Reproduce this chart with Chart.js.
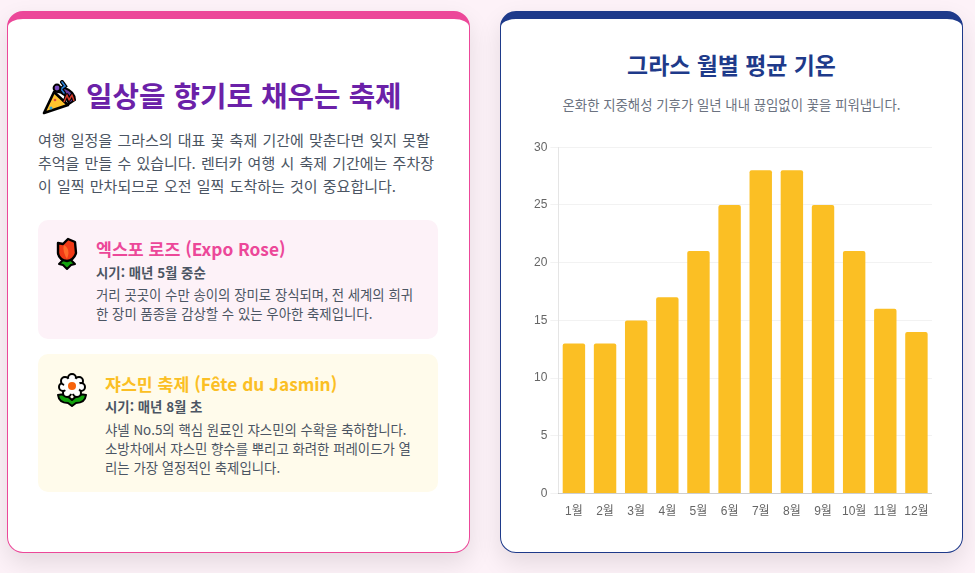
<!DOCTYPE html>
<html lang="ko">
<head>
<meta charset="utf-8">
<script src="https://cdn.jsdelivr.net/npm/chart.js@4"></script>
<style>
* { box-sizing: border-box; margin: 0; padding: 0; }
html, body { width: 975px; height: 573px; overflow: hidden; background: #fdf2f8; font-family: "Noto Sans CJK KR", "Noto Sans", sans-serif; }
.card { position: absolute; top: 11px; width: 463px; height: 542px; background: #fff; border-radius: 16px; border: 1px solid; border-top-width: 8px; box-shadow: 0 10px 25px rgba(0,0,0,.1); }
#left { left: 7px; border-color: #ec4899; }
#right { left: 500px; border-color: #1e3a8a; }
.abs { position: absolute; white-space: nowrap; }
h1 { font-size: 28.8px; line-height: 40px; font-weight: 700; color: #6b21a8; }
.lead { font-size: 15px; line-height: 23px; word-spacing: 1px; color: #4b5563; }
.box { position: absolute; left: 30px; width: 400px; border-radius: 10px; }
svg.icon { position: absolute; }
.name { font-size: 17.3px; line-height: 26px; font-weight: 700; }
.when { font-size: 13.4px; line-height: 20px; font-weight: 700; color: #4b5563; }
.desc { font-size: 13.4px; line-height: 19px; color: #4b5563; }
#chartTitle { left: 0; width: 461px; text-align: center; font-size: 22.9px; line-height: 32px; font-weight: 700; color: #1e3a8a; }
#chartSub { left: 0; width: 461px; text-align: center; font-size: 13.4px; line-height: 20px; color: #6b7280; }
#chartWrap { position: absolute; left: 30px; top: 118px; width: 401px; height: 385px; }
</style>
</head>
<body>
<div class="card" id="left">
  <svg class="icon" style="left:33px;top:61px" width="36" height="36" viewBox="0 0 36 36">
    <path d="M13 12 Q24 10 28 24 L34 20 Q34 12 24 8 Z" fill="#6b3fa0" stroke="#000" stroke-width="2" stroke-linejoin="round"/>
    <path d="M3 33 L13 12 L27 25 Z" fill="#fec32e" stroke="#000" stroke-width="2.6" stroke-linejoin="round"/>
    <path d="M21 2 L24 6 L20 9 L23 13" fill="none" stroke="#000" stroke-width="4" stroke-linecap="round"/>
    <path d="M21 2 L24 6 L20 9 L23 13" fill="none" stroke="#2a7fd5" stroke-width="1.6" stroke-linecap="round"/>
    <circle cx="16" cy="8" r="3.4" fill="#7a4cc0" stroke="#000" stroke-width="2"/>
    <path d="M23 22 L26 15 L28 20 L31 15 L33 21" fill="none" stroke="#000" stroke-width="3.6" stroke-linejoin="round"/>
    <path d="M23 22 L26 15 L28 20 L31 15 L33 21" fill="none" stroke="#d23a2a" stroke-width="1.5" stroke-linejoin="round"/>
    <circle cx="14" cy="20" r="1.3" fill="#e0483a"/><circle cx="10" cy="28" r="1.5" fill="#2a9fd5"/>
  </svg>
  <h1 class="abs" style="left:78px;top:56px">일상을 향기로 채우는 축제</h1>
  <p class="abs lead" style="left:30px;top:109px">여행 일정을 그라스의 대표 꽃 축제 기간에 맞춘다면 잊지 못할<br>추억을 만들 수 있습니다. 렌터카 여행 시 축제 기간에는 주차장<br>이 일찍 만차되므로 오전 일찍 도착하는 것이 중요합니다.</p>
  <div class="box" style="top:201px;height:119px;background:#fdf2f8">
    <svg class="icon" style="left:16px;top:17px" width="26" height="34" viewBox="0 0 26 34">
      <path d="M13 32 L9 28 L5 27 L9 23 L17 23 L21 27 L17 28 Z" fill="#13a10e" stroke="#000" stroke-width="2" stroke-linejoin="round"/>
      <path d="M4 6 L9 7 L14 2 L21 5 L22 16 Q20 23 13 24 Q5 23 4 16 Z" fill="#f03a17" stroke="#000" stroke-width="2.4" stroke-linejoin="round"/>
      <path d="M13 22 Q8 14 10 8 Q17 12 13 22 Z" fill="#ff6a2a"/>
    </svg>
    <div class="abs name" style="left:58px;top:16px;color:#ec4899">엑스포 로즈 (Expo Rose)</div>
    <div class="abs when" style="left:58px;top:42px">시기: 매년 5월 중순</div>
    <div class="abs desc" style="left:58px;top:65px">거리 곳곳이 수만 송이의 장미로 장식되며, 전 세계의 희귀<br>한 장미 품종을 감상할 수 있는 우아한 축제입니다.</div>
  </div>
  <div class="box" style="top:335px;height:138px;background:#fffbeb">
    <svg class="icon" style="left:19px;top:19px" width="30" height="34" viewBox="0 0 30 34">
      <path d="M1 22 Q8 20 15 27 Q22 20 29 22 Q28 30 19 30 L15 33 L11 30 Q2 30 1 22 Z" fill="#13a10e" stroke="#000" stroke-width="2" stroke-linejoin="round"/>
      <g fill="#fff" stroke="#000" stroke-width="2">
        <circle cx="15" cy="5" r="4"/><circle cx="22" cy="8" r="4"/><circle cx="24" cy="14" r="4"/><circle cx="20" cy="20" r="4"/>
        <circle cx="10" cy="20" r="4"/><circle cx="6" cy="14" r="4"/><circle cx="8" cy="8" r="4"/>
      </g>
      <circle cx="15" cy="13" r="8" fill="#fff"/>
      <circle cx="15" cy="13" r="4" fill="#f7630c"/>
    </svg>
    <div class="abs name" style="left:67px;top:17px;color:#fbbf24">쟈스민 축제 (Fête du Jasmin)</div>
    <div class="abs when" style="left:67px;top:42px">시기: 매년 8월 초</div>
    <div class="abs desc" style="left:67px;top:66px">샤넬 No.5의 핵심 원료인 쟈스민의 수확을 축하합니다.<br>소방차에서 쟈스민 향수를 뿌리고 화려한 퍼레이드가 열<br>리는 가장 열정적인 축제입니다.</div>
  </div>
</div>
<div class="card" id="right">
  <div class="abs" id="chartTitle" style="top:29px">그라스 월별 평균 기온</div>
  <div class="abs" id="chartSub" style="top:75px">온화한 지중해성 기후가 일년 내내 끊임없이 꽃을 피워냅니다.</div>
  <div id="chartWrap"><canvas id="tempChart"></canvas></div>
</div>
<script>
const months = ['1월','2월','3월','4월','5월','6월','7월','8월','9월','10월','11월','12월'];
const avgTemps = [13, 13, 15, 17, 21, 25, 28, 28, 25, 21, 16, 14];
const yTicks = [0, 5, 10, 15, 20, 25, 30];

Chart.defaults.animation = false;
Chart.defaults.font.family = '"Liberation Sans", "Noto Sans CJK KR", sans-serif';
Chart.defaults.font.size = 12;

new Chart(document.getElementById('tempChart'), {
  type: 'bar',
  data: {
    labels: months,
    datasets: [{
      label: '평균 기온',
      data: avgTemps,
      backgroundColor: '#fbbf24',
      borderRadius: 2
    }]
  },
  options: {
    responsive: true,
    maintainAspectRatio: false,
    plugins: { legend: { display: false }, tooltip: { enabled: false } },
    scales: {
      x: { grid: { display: false }, border: { color: 'rgba(0,0,0,.15)' }, ticks: { color: '#666', maxRotation: 0, autoSkip: false } },
      y: {
        min: 0, max: 30,
        afterBuildTicks: axis => { axis.ticks = yTicks.map(value => ({ value })); },
        ticks: { color: '#666' },
        grid: { color: 'rgba(0,0,0,.05)' }
      }
    }
  }
});
</script>
</body>
</html>
